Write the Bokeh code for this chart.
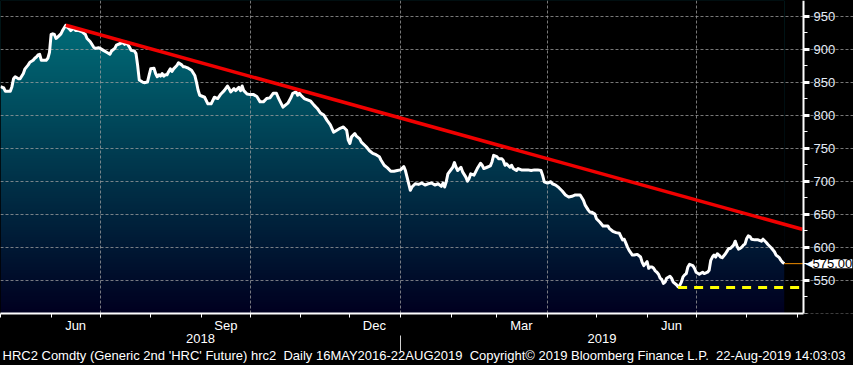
import numpy as np
from bokeh.plotting import figure
from bokeh.models import (Range1d, DatetimeAxis, FixedTicker, DatetimeTickFormatter,
                          Label, Title, GlobalInlineStyleSheet)
from bokeh.embed import file_html
from bokeh.resources import INLINE

# ---------------- data ----------------
start_date = "2018-05-01"
day_offsets = [
    0, 2, 3, 6, 7, 8, 9, 11, 12, 14,
    15, 17, 18, 20, 21, 22, 23, 24, 25, 28,
    29, 30, 31, 32, 33, 34, 35, 37, 38, 40,
    41, 42, 43, 45, 46, 48, 50, 52, 53, 55,
    57, 58, 60, 61, 63, 65, 67, 68, 70, 71,
    73, 75, 76, 77, 79, 80, 82, 83, 84, 85,
    87, 88, 90, 91, 92, 94, 95, 96, 97, 98,
    99, 100, 101, 102, 103, 104, 105, 106, 108, 109,
    111, 112, 113, 115, 117, 119, 120, 121, 122, 125,
    127, 129, 131, 133, 135, 137, 139, 140, 141, 143,
    144, 146, 147, 148, 149, 151, 153, 155, 157, 159,
    161, 163, 165, 167, 169, 170, 171, 173, 176, 178,
    179, 181, 182, 183, 184, 186, 188, 190, 192, 194,
    196, 198, 200, 202, 204, 206, 208, 210, 212, 213,
    214, 215, 217, 218, 220, 221, 224, 226, 228, 230,
    232, 233, 235, 237, 239, 241, 243, 245, 247, 248,
    249, 251, 252, 254, 256, 258, 260, 262, 264, 266,
    268, 270, 271, 272, 273, 274, 277, 278, 279, 280,
    282, 283, 285, 286, 287, 288, 290, 291, 292, 294,
    295, 296, 298, 300, 301, 302, 304, 305, 307, 308,
    309, 310, 312, 313, 314, 316, 317, 319, 320, 323,
    325, 327, 329, 331, 332, 333, 335, 337, 338, 340,
    342, 344, 346, 348, 350, 352, 355, 357, 358, 360,
    361, 362, 364, 365, 367, 369, 372, 373, 375, 377,
    379, 380, 381, 382, 383, 384, 385, 387, 388, 390,
    392, 393, 394, 395, 396, 397, 398, 399, 400, 401,
    402, 403, 404, 405, 406, 407, 408, 410, 411, 412,
    414, 415, 416, 417, 418, 419, 420, 421, 422, 424,
    425, 426, 428, 430, 431, 433, 434, 435, 436, 437,
    438, 439, 440, 441, 442, 443, 444, 445, 446, 447,
    449, 450, 451, 452, 453, 454, 455, 456, 457, 458,
    459, 460, 462, 464, 466, 467, 469, 470, 472, 474,
    475, 477, 478, 479, 480,
]
hrc_price = [
    843, 841, 836, 836, 843, 855, 858, 855, 855, 863,
    870, 876, 880, 883, 886, 888, 891, 892, 883, 883,
    886, 895, 922, 923, 922, 916, 918, 923, 928, 936,
    933, 931, 928, 932, 928, 928, 926, 922, 916, 911,
    903, 901, 902, 901, 898, 895, 892, 897, 901, 906,
    908, 910, 907, 910, 903, 898, 897, 893, 875, 853,
    850, 849, 850, 860, 870, 871, 863, 858, 861, 859,
    863, 859, 861, 861, 866, 870, 866, 870, 875, 879,
    876, 873, 873, 871, 868, 860, 850, 838, 830, 827,
    817, 817, 827, 825, 832, 837, 844, 840, 835, 840,
    837, 842, 837, 844, 837, 832, 831, 831, 828, 820,
    820, 825, 826, 833, 833, 827, 822, 812, 818, 827,
    833, 835, 830, 833, 830, 825, 823, 821, 815, 810,
    803, 800, 792, 785, 774, 777, 780, 782, 777, 762,
    757, 767, 772, 768, 764, 759, 752, 746, 742, 740,
    737, 732, 724, 720, 715, 715, 716, 717, 722, 716,
    706, 686, 691, 696, 695, 697, 694, 696, 697, 694,
    696, 692, 697, 691, 699, 711, 721, 728, 721, 716,
    721, 714, 706, 700, 704, 711, 709, 714, 719, 727,
    724, 719, 721, 723, 729, 739, 737, 734, 734, 731,
    724, 726, 721, 724, 719, 716, 719, 717, 717, 717,
    716, 717, 717, 716, 709, 699, 697, 699, 696, 694,
    690, 685, 679, 676, 677, 679, 679, 671, 664, 656,
    653, 653, 650, 643, 638, 632, 632, 628, 624, 622,
    621, 616, 611, 612, 606, 600, 595, 588, 588, 589,
    585, 577, 572, 575, 578, 568, 570, 570, 568, 564,
    562, 559, 553, 551, 545, 547, 553, 556, 553, 547,
    543, 540, 542, 547, 555, 558, 560, 570, 574, 572,
    568, 562, 559, 562, 560, 562, 565, 580, 585, 588,
    585, 590, 588, 585, 584, 587, 590, 594, 598, 598,
    603, 609, 602, 597, 598, 600, 603, 605, 613, 617,
    616, 612, 611, 611, 609, 612, 607, 604, 599, 593,
    588, 584, 580, 577, 575,
]
last_price = 575.00

trend_dates = ["2018-06-10", "2019-09-04"]
trend_values = [936, 627]
support_dates = ["2019-06-20", "2019-09-04"]
support_values = [539, 539]

view_start = "2018-05-01T00:00"
axis_date = "2019-09-04T19:00"      # where the price axis sits
y_low, y_high = 499.5, 973.5

month_label_dates = ["2018-06-16", "2018-09-16", "2018-12-16", "2019-03-16", "2019-06-16"]
month_starts = ["2018-05-01", "2018-06-01", "2018-07-01", "2018-08-01", "2018-09-01",
                "2018-10-01", "2018-11-01", "2018-12-01", "2019-01-01", "2019-02-01",
                "2019-03-01", "2019-04-01", "2019-05-01", "2019-06-01", "2019-07-01",
                "2019-08-01", "2019-09-01"]
quarter_starts = ["2018-07-01", "2018-10-01", "2019-01-01", "2019-04-01", "2019-07-01"]
year_break = "2019-01-01"
y_ticks = [550, 600, 650, 700, 750, 800, 850, 900, 950]
y_grid_levels = [500, 550, 600, 650, 700, 750, 800, 850, 900, 950]
y_minor = [500, 525, 550, 575, 600, 625, 650, 675, 700, 725, 750, 775, 800, 825,
           850, 875, 900, 925, 950, 975]
NB2 = "\u00a0 "
footer = ("HRC2 Comdty (Generic 2nd 'HRC' Future) hrc2" + NB2 + "Daily 16MAY2016-22AUG2019" + NB2 +
          "Copyright\u00a9 2019 Bloomberg Finance L.P." + NB2 + "22-Aug-2019 14:03:03")


def ms(d):
    return float(np.datetime64(d, "ms").astype(np.int64))


dates_ms = (np.datetime64(start_date, "D") + np.array(day_offsets).astype("timedelta64[D]")
            ).astype("datetime64[ms]").astype(np.int64).astype(float)
prices = np.array(hrc_price, dtype=float)

W, H = 853, 365
AXIS_PX = 803                      # pixel column of the price axis
x0, x1 = ms(view_start), ms(axis_date)
x_right = x0 + (x1 - x0) * W / AXIS_PX   # range extends under the price-axis column

FONT = "Liberation Sans"

p = figure(width=W, height=H, x_axis_type="datetime",
           x_range=Range1d(x0, x_right), y_range=Range1d(y_low, y_high),
           x_axis_location="below", y_axis_location="right",
           output_backend="svg", toolbar_location=None,
           background_fill_color="black", border_fill_color="black",
           outline_line_color=None, min_border=0, min_border_bottom=52,
           stylesheets=[GlobalInlineStyleSheet(css="html, body { background-color: #000000; overflow: hidden; }")])

# gradient fill under the price line (image + black mask above the line)
n = 256
img = np.empty((n, 1), dtype=np.uint32)
view = img.view(dtype=np.uint8).reshape((n, 1, 4))
t = np.linspace(0.0, 1.0, n)
bottom_rgb = np.array([0, 0, 32])
top_rgb = np.array([0, 117, 127])
for i in range(3):
    view[:, 0, i] = (bottom_rgb[i] + (top_rgb[i] - bottom_rgb[i]) * t).astype(np.uint8)
view[:, 0, 3] = 255
p.image_rgba(image=[img], x=x0, y=y_low, dw=dates_ms[-1] - x0, dh=y_high - y_low, level="image")
p.varea(x=dates_ms, y1=prices, y2=y_high + 20, fill_color="black", level="image")

# grids
p.xgrid.ticker = FixedTicker(ticks=[ms(d) for d in quarter_starts])
p.ygrid.ticker = FixedTicker(ticks=y_grid_levels)
p.grid.grid_line_color = "#a0a0a0"
p.grid.grid_line_alpha = 0.75
p.grid.grid_line_dash = "3 2"
p.grid.grid_line_width = 1

# black strip under the price-axis column (hides grid lines there)
p.quad(left=x1, right=x_right + 1e9, bottom=y_low - 10, top=y_high + 10,
       fill_color="black", line_color=None, level="underlay")

# lines
p.line(dates_ms, prices, line_color="white", line_width=3, line_join="round")
p.line([ms(d) for d in trend_dates], trend_values, line_color="#f00000", line_width=3.5)
p.line([ms(d) for d in support_dates], support_values, line_color="#ffff00", line_width=3,
       line_dash="9 7")
p.line([dates_ms[-1], x1], [last_price, last_price], line_color="#f08c00", line_width=1)

# bottom month axis
xa = p.xaxis[0]
xa.bounds = (x0, x1)
xa.ticker = FixedTicker(ticks=[ms(d) for d in month_label_dates],
                        minor_ticks=[ms(d) for d in month_starts])
xa.formatter = DatetimeTickFormatter(days="%b", months="%b", years="%b", hours="%b",
                                     hourmin="%b", minutes="%b", minsec="%b", seconds="%b",
                                     milliseconds="%b", microseconds="%b")
xa.axis_line_color = "white"
xa.axis_line_width = 2
xa.major_tick_line_color = None
xa.major_tick_out = 0
xa.major_tick_in = 0
xa.minor_tick_line_color = "white"
xa.minor_tick_out = 4
xa.minor_tick_in = 0
xa.major_label_text_color = "white"
xa.major_label_text_font = FONT
xa.major_label_text_font_size = "13px"
xa.major_label_standoff = 0

# year axis (separator drawn as its minor tick)
mid_2018 = (x0 + ms(year_break)) / 2
mid_2019 = (ms(year_break) + x1) / 2
year_axis = DatetimeAxis(
    bounds=(x0, x1),
    ticker=FixedTicker(ticks=[mid_2018, mid_2019], minor_ticks=[ms(year_break)]),
    formatter=DatetimeTickFormatter(days="%Y", months="%Y", years="%Y", hours="%Y",
                                    hourmin="%Y", minutes="%Y", minsec="%Y", seconds="%Y",
                                    milliseconds="%Y", microseconds="%Y"),
    axis_line_color=None, major_tick_line_color=None, major_tick_out=0, major_tick_in=0,
    minor_tick_line_color="#d0d0d0", minor_tick_in=0, minor_tick_out=17,
    major_label_text_color="white", major_label_text_font=FONT,
    major_label_text_font_size="13px", major_label_standoff=-19)
p.add_layout(year_axis, "below")

# right price axis, pinned at the axis date
ra = p.yaxis[0]
ra.fixed_location = x1
ra.ticker = FixedTicker(ticks=y_ticks, minor_ticks=y_minor)
ra.axis_line_color = "white"
ra.axis_line_width = 2
ra.major_tick_line_color = "white"
ra.major_tick_line_width = 3
ra.major_tick_out = 6
ra.major_tick_in = 0
ra.minor_tick_line_color = "white"
ra.minor_tick_out = 4
ra.minor_tick_in = 0
ra.major_label_text_color = "#e4ecf8"
ra.major_label_text_font = FONT
ra.major_label_text_font_size = "13px"
ra.major_label_standoff = 4

# last price tag: arrow first, then the white box on top
p.add_layout(Label(x=x1, y=last_price, x_units="data", y_units="data", x_offset=2,
                   text="\u25c0", text_baseline="middle", text_align="left",
                   text_color="white", text_font="DejaVu Sans", text_font_size="11px"))
p.add_layout(Label(x=x1, y=last_price, x_units="data", y_units="data", x_offset=9,
                   text=f"{last_price:.2f}", text_baseline="middle", text_align="left",
                   text_color="black", text_font=FONT, text_font_size="13px",
                   background_fill_color="white"))

# footer
p.add_layout(Title(text=footer, align="left", text_color="white", text_font=FONT,
                   text_font_size="13px", text_font_style="normal", standoff=0, offset=2),
             "below")

open("out.html", "w").write(file_html(p, INLINE))
